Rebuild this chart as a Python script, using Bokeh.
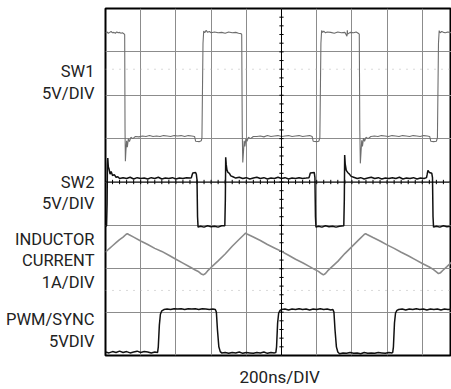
import numpy as np
from bokeh.plotting import figure
from bokeh.models import Range1d, FixedTicker, Span
from bokeh.embed import file_html
from bokeh.resources import INLINE

# ---- data (x in divisions of 200ns, y in screen divisions) ----
sw1_x = [0.00, 0.04, 0.08, 0.12, 0.16, 0.20, 0.24, 0.28, 0.32, 0.36, 0.40, 0.44, 0.48, 0.52, 0.545,
         0.555, 0.565, 0.58, 0.60, 0.62, 0.65, 0.68, 0.72, 0.78, 0.85,
         0.95, 1.05, 1.15, 1.25, 1.35, 1.45, 1.55, 1.65, 1.75, 1.85, 1.95, 2.05, 2.15, 2.25, 2.35, 2.45, 2.53,
         2.56, 2.66, 2.72, 2.74,
         2.77, 2.79, 2.82, 2.86, 2.90, 2.95, 3.00, 3.10, 3.20, 3.30, 3.40, 3.50, 3.60, 3.70, 3.78, 3.85, 3.87,
         3.885, 3.90, 3.92, 3.94, 3.96, 3.99, 4.02, 4.06, 4.12, 4.20,
         4.30, 4.40, 4.50, 4.60, 4.70, 4.80, 4.90, 5.00, 5.10, 5.20, 5.30, 5.40, 5.50, 5.60, 5.70, 5.80, 5.87,
         5.90, 6.00, 6.06, 6.09,
         6.12, 6.14, 6.17, 6.20, 6.25, 6.30, 6.40, 6.50, 6.60, 6.70, 6.80, 6.86, 6.87, 6.88, 6.95, 7.05, 7.12, 7.18, 7.21,
         7.225, 7.24, 7.26, 7.28, 7.30, 7.33, 7.36, 7.40, 7.46, 7.54,
         7.64, 7.74, 7.84, 7.94, 8.04, 8.14, 8.24, 8.34, 8.44, 8.54, 8.64, 8.74, 8.84, 8.94, 9.04, 9.14, 9.21,
         9.24, 9.32, 9.40, 9.43,
         9.46, 9.48, 9.51, 9.55, 9.60, 9.66, 9.72, 9.78, 9.83]
sw1_y = [7.44, 7.46, 7.43, 7.45, 7.47, 7.44, 7.45, 7.43, 7.46, 7.44, 7.45, 7.43, 7.44, 7.42, 7.40,
         5.20, 4.48, 4.72, 4.95, 4.80, 5.00, 4.93, 5.03, 5.00, 5.05,
         5.04, 5.06, 5.05, 5.07, 5.05, 5.06, 5.05, 5.07, 5.06, 5.05, 5.07, 5.06, 5.07, 5.05, 5.07, 5.06, 5.05,
         4.94, 4.93, 4.95, 5.02,
         7.20, 7.48, 7.44, 7.50, 7.45, 7.47, 7.44, 7.46, 7.44, 7.45, 7.43, 7.46, 7.44, 7.45, 7.43, 7.42, 7.40,
         5.20, 4.45, 4.70, 4.95, 4.82, 5.00, 4.94, 5.03, 5.00, 5.05,
         5.05, 5.06, 5.04, 5.07, 5.05, 5.06, 5.07, 5.05, 5.06, 5.07, 5.05, 5.06, 5.07, 5.05, 5.06, 5.07, 5.05,
         4.94, 4.93, 4.94, 5.02,
         7.20, 7.49, 7.45, 7.48, 7.44, 7.46, 7.45, 7.43, 7.46, 7.44, 7.45, 7.36, 7.50, 7.41, 7.45, 7.44, 7.46, 7.43, 7.41,
         5.20, 4.43, 4.70, 4.96, 4.82, 5.01, 4.94, 5.03, 5.00, 5.05,
         5.06, 5.05, 5.07, 5.06, 5.05, 5.07, 5.06, 5.05, 5.07, 5.06, 5.05, 5.07, 5.06, 5.05, 5.07, 5.06, 5.05,
         4.94, 4.93, 4.94, 5.02,
         7.20, 7.49, 7.44, 7.47, 7.45, 7.44, 7.46, 7.45, 7.44]

sw2_x = [0.00, 0.03, 0.045, 0.055, 0.065, 0.08, 0.10, 0.13, 0.16, 0.20, 0.25, 0.30, 0.35, 0.40,
         0.50, 0.60, 0.70, 0.80, 0.90, 1.00, 1.10, 1.20, 1.30, 1.40, 1.50, 1.60, 1.70, 1.80, 1.90, 2.00,
         2.10, 2.20, 2.30, 2.40, 2.44, 2.46, 2.48, 2.56, 2.58, 2.60, 2.615, 2.63,
         2.70, 2.80, 2.90, 3.00, 3.10, 3.20, 3.30, 3.39,
         3.405, 3.415, 3.43, 3.45, 3.48, 3.52, 3.56, 3.62, 3.70, 3.80, 3.90, 4.00, 4.10, 4.20, 4.30, 4.40,
         4.50, 4.60, 4.70, 4.80, 4.90, 5.00, 5.10, 5.20, 5.30, 5.40, 5.50, 5.60, 5.70, 5.78, 5.80, 5.82,
         5.93, 5.95, 5.965, 5.98,
         6.05, 6.15, 6.25, 6.35, 6.45, 6.55, 6.65, 6.77,
         6.785, 6.795, 6.81, 6.84, 6.88, 6.92, 6.98, 7.05, 7.15, 7.25, 7.35, 7.45, 7.55, 7.65, 7.75, 7.85,
         7.95, 8.05, 8.15, 8.25, 8.35, 8.45, 8.55, 8.65, 8.75, 8.85, 8.95, 9.05, 9.12, 9.14, 9.16,
         9.20, 9.27, 9.29, 9.305, 9.32,
         9.40, 9.50, 9.60, 9.70, 9.83]
sw2_y = [2.98, 2.99, 3.50, 4.40, 4.55, 4.35, 4.30, 4.18, 4.24, 4.15, 4.17, 4.11, 4.12, 4.08,
         4.10, 4.08, 4.11, 4.07, 4.10, 4.08, 4.09, 4.07, 4.10, 4.08, 4.11, 4.07, 4.09, 4.08, 4.10, 4.07,
         4.09, 4.08, 4.10, 4.09, 4.10, 4.16, 4.21, 4.22, 4.18, 4.05, 3.20, 2.96,
         2.98, 2.96, 2.99, 2.97, 2.98, 2.96, 2.99, 2.99,
         3.60, 4.57, 4.40, 4.28, 4.22, 4.20, 4.14, 4.12, 4.09, 4.11, 4.08, 4.10, 4.07, 4.09, 4.11, 4.08,
         4.10, 4.07, 4.09, 4.08, 4.11, 4.08, 4.10, 4.07, 4.09, 4.08, 4.10, 4.08, 4.09, 4.10, 4.15, 4.21,
         4.22, 4.10, 3.20, 2.96,
         2.98, 2.96, 2.99, 2.97, 2.98, 2.96, 2.98, 2.99,
         3.60, 4.62, 4.42, 4.27, 4.22, 4.19, 4.13, 4.11, 4.08, 4.10, 4.07, 4.09, 4.11, 4.08, 4.10, 4.07,
         4.09, 4.08, 4.10, 4.08, 4.11, 4.07, 4.09, 4.08, 4.10, 4.07, 4.09, 4.08, 4.10, 4.18, 4.27,
         4.22, 4.20, 4.10, 3.20, 2.96,
         2.98, 2.96, 2.99, 2.97, 2.98]

ind_x = [0.00, 0.10, 0.20, 0.30, 0.40, 0.50, 0.58, 0.62, 0.66, 0.80, 1.00, 1.20, 1.40, 1.60, 1.80,
         2.00, 2.20, 2.40, 2.55, 2.65, 2.72, 2.78, 2.84, 2.90, 3.00, 3.20, 3.40, 3.60, 3.80, 3.94,
         3.98, 4.02, 4.20, 4.40, 4.60, 4.80, 5.00, 5.20, 5.40, 5.60, 5.80, 5.95, 6.05, 6.13, 6.19,
         6.25, 6.31, 6.40, 6.60, 6.80, 7.00, 7.20, 7.35, 7.39, 7.43, 7.60, 7.80, 8.00, 8.20, 8.40,
         8.60, 8.80, 9.00, 9.20, 9.32, 9.40, 9.46, 9.52, 9.58, 9.70, 9.83]
ind_y = [2.38, 2.46, 2.53, 2.60, 2.67, 2.73, 2.79, 2.81, 2.79, 2.73, 2.64, 2.56, 2.47, 2.40, 2.31,
         2.22, 2.13, 2.04, 1.97, 1.93, 1.88, 1.86, 1.89, 1.95, 2.03, 2.18, 2.34, 2.52, 2.68, 2.79,
         2.82, 2.80, 2.73, 2.65, 2.56, 2.48, 2.40, 2.31, 2.22, 2.14, 2.05, 1.98, 1.94, 1.89, 1.86,
         1.89, 1.95, 2.02, 2.17, 2.35, 2.51, 2.67, 2.79, 2.81, 2.79, 2.72, 2.64, 2.55, 2.47, 2.38,
         2.30, 2.21, 2.12, 2.04, 1.98, 1.93, 1.89, 1.91, 1.96, 2.05, 2.15]

pwm_x = [0.00, 0.10, 0.20, 0.30, 0.40, 0.50, 0.60, 0.70, 0.80, 0.90, 1.00, 1.10, 1.20, 1.30, 1.40, 1.48,
         1.50, 1.53, 1.56, 1.60, 1.66, 1.75, 1.85, 1.95, 2.05, 2.15, 2.25, 2.35, 2.45, 2.55, 2.65, 2.75,
         2.85, 2.95, 3.05, 3.12, 3.15, 3.18, 3.22, 3.26, 3.30, 3.40, 3.50, 3.60, 3.70, 3.80, 3.90, 4.00,
         4.10, 4.20, 4.30, 4.40, 4.50, 4.60, 4.70, 4.80, 4.84, 4.86, 4.89, 4.92, 4.96, 5.00, 5.10, 5.20,
         5.30, 5.40, 5.50, 5.60, 5.70, 5.80, 5.90, 6.00, 6.10, 6.20, 6.30, 6.40, 6.46, 6.49, 6.52, 6.56,
         6.60, 6.65, 6.75, 6.85, 6.95, 7.05, 7.15, 7.25, 7.35, 7.45, 7.55, 7.65, 7.75, 7.85, 7.95, 8.05,
         8.14, 8.16, 8.18, 8.21, 8.24, 8.28, 8.33, 8.43, 8.53, 8.63, 8.73, 8.83, 8.93, 9.03, 9.13, 9.23,
         9.33, 9.43, 9.53, 9.63, 9.73, 9.83]
pwm_y = [0.08, 0.06, 0.09, 0.07, 0.10, 0.07, 0.09, 0.06, 0.08, 0.10, 0.07, 0.09, 0.08, 0.06, 0.08, 0.07,
         0.20, 0.70, 0.95, 1.03, 1.06, 1.07, 1.06, 1.08, 1.07, 1.08, 1.06, 1.08, 1.07, 1.08, 1.06, 1.08,
         1.07, 1.06, 1.07, 1.06, 1.00, 0.60, 0.20, 0.09, 0.06, 0.07, 0.05, 0.07, 0.06, 0.08, 0.05, 0.07,
         0.06, 0.05, 0.07, 0.06, 0.08, 0.05, 0.07, 0.06, 0.07, 0.20, 0.75, 0.98, 1.04, 1.06, 1.07, 1.05,
         1.07, 1.06, 1.08, 1.06, 1.07, 1.05, 1.07, 1.06, 1.08, 1.06, 1.07, 1.05, 1.06, 1.00, 0.60, 0.20,
         0.08, 0.04, 0.06, 0.05, 0.07, 0.05, 0.06, 0.04, 0.07, 0.05, 0.06, 0.05, 0.07, 0.06, 0.05, 0.07,
         0.06, 0.07, 0.20, 0.75, 0.98, 1.04, 1.06, 1.07, 1.05, 1.07, 1.06, 1.08, 1.06, 1.07, 1.05, 1.07,
         1.06, 1.07, 1.05, 1.07, 1.06, 1.07]

label_pos = [6.55, 6.05, 3.98, 3.50, 2.68, 2.18, 1.68, 0.82, 0.32]
label_txt = ["SW1", "5V/DIV", "SW2", "5V/DIV", "INDUCTOR", "CURRENT", "1A/DIV", "PWM/SYNC", "5VDIV"]
time_pos = 4.95
time_label = "200ns/DIV"

FONT = "Roboto"

p = figure(width=451, height=389, x_range=Range1d(0, 9.83), y_range=Range1d(0, 8),
           output_backend="svg", toolbar_location=None,
           min_border_left=105, min_border_right=0, min_border_top=8, min_border_bottom=29)
p.xgrid.ticker = FixedTicker(ticks=list(range(0, 11)))
p.ygrid.ticker = FixedTicker(ticks=list(range(0, 9)))
p.grid.grid_line_color = "#8c8c8c"
p.grid.grid_line_width = 1
p.outline_line_color = "black"
p.outline_line_width = 2
p.background_fill_color = "white"
p.border_fill_color = "white"

# axes used only to carry the channel / timebase captions
ya = p.yaxis[0]
ya.ticker = FixedTicker(ticks=label_pos)
ya.major_label_overrides = {v: t for v, t in zip(label_pos, label_txt)}
xa = p.xaxis[0]
xa.ticker = FixedTicker(ticks=[time_pos])
xa.major_label_overrides = {time_pos: time_label}
for ax in (ya, xa):
    ax.axis_line_color = None
    ax.major_tick_line_color = None
    ax.minor_tick_line_color = None
    ax.major_tick_in = 0
    ax.major_tick_out = 0
    ax.minor_tick_in = 0
    ax.minor_tick_out = 0
    ax.major_label_text_font = FONT
    ax.major_label_text_color = "#222222"
ya.major_label_text_font_size = "16.5px"
ya.major_label_standoff = 11
xa.major_label_text_font_size = "17px"
xa.major_label_standoff = 11

# faint dotted reference lines
for yv in (6.6, 1.5):
    p.add_layout(Span(location=yv, dimension="width", line_color="#b5b5b5",
                      line_width=1, line_dash="1 6"))

# center crosshair with minor ticks
p.add_layout(Span(location=5, dimension="height", line_color="black", line_width=1))
p.add_layout(Span(location=4, dimension="width", line_color="black", line_width=1))
ty = np.arange(0.2, 8, 0.2)
p.segment(x0=5 - 0.06, x1=5 + 0.06, y0=ty, y1=ty, line_color="black", line_width=1)
tx = np.arange(0.2, 10, 0.2)
p.segment(x0=tx, x1=tx, y0=4 - 0.05, y1=4 + 0.05, line_color="black", line_width=1)

# traces
p.line(ind_x, ind_y, line_color="#8a8a8a", line_width=1.6)
p.line(sw1_x, sw1_y, line_color="#6e6e6e", line_width=1.1)
p.line(pwm_x, pwm_y, line_color="#111111", line_width=1.5)
p.line(sw2_x, sw2_y, line_color="#111111", line_width=1.5)

open("out.html", "w").write(file_html(p, INLINE))
